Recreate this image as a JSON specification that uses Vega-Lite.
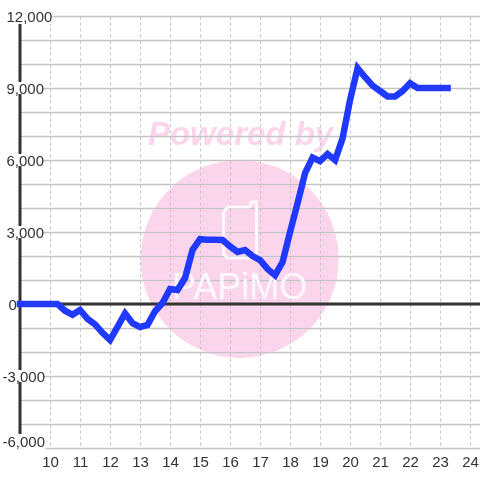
{"$schema":"https://vega.github.io/schema/vega-lite/v6.json","width":460,"height":432,"autosize":{"type":"none"},"padding":{"left":20,"top":16,"right":0,"bottom":32},"background":"#ffffff","config":{"view":{"stroke":null}},"resolve":{"axis":{"x":"independent","y":"independent"}},
"layer":[
{"data":{"values":[{"hour":16.32,"value":1875}]},"mark":{"type":"point","shape":"circle","filled":true,"size":39204,"color":"#fbd5ec","opacity":1,"blend":"darken"},
"encoding":{"x":{"field":"hour","type":"quantitative","scale":{"domain":[9,24.33],"nice":false,"zero":false},"axis":{"orient":"bottom","values":[10,11,12,13,14,15,16,17,18,19,20,21,22,23,24],"title":null,"domain":false,"ticks":false,"labels":false,"zindex":0,"grid":true,"gridColor":"#c4c4c4","gridWidth":1,"gridDash":[3,3]}},
"y":{"field":"value","type":"quantitative","scale":{"domain":[-6000,12000],"nice":false,"zero":false},"axis":{"orient":"left","values":[-6000,-5000,-4000,-3000,-2000,-1000,0,1000,2000,3000,4000,5000,6000,7000,8000,9000,10000,11000,12000],"title":null,"domain":false,"ticks":false,"labels":false,"zindex":0,"grid":true,"gridColor":"#c4c4c4","gridWidth":1.5}}}},
{"data":{"values":[{"hour":16.35,"value":7040,"label":"Powered by"}]},"mark":{"type":"text","font":"Liberation Sans","fontSize":33,"fontWeight":"bold","fontStyle":"italic","color":"#fbd5ec","baseline":"middle","align":"center","blend":"darken"},
"encoding":{"x":{"field":"hour","type":"quantitative","axis":null},"y":{"field":"value","type":"quantitative","axis":null},"text":{"field":"label"}}},
{"data":{"values":[{"hour":15.783,"value":3833,"o":1},{"hour":15.917,"value":4042,"o":2},{"hour":16.65,"value":4042,"o":3},{"hour":16.72,"value":4250,"o":4},{"hour":16.883,"value":4250,"o":5},{"hour":16.883,"value":2042,"o":6},{"hour":16.717,"value":1917,"o":7},{"hour":15.917,"value":1917,"o":8},{"hour":15.783,"value":2083,"o":9},{"hour":15.783,"value":3833,"o":10}]},"mark":{"type":"line","color":"#ffffff","strokeWidth":3,"opacity":0.85},
"encoding":{"x":{"field":"hour","type":"quantitative","axis":null},"y":{"field":"value","type":"quantitative","axis":null},"order":{"field":"o"}}},
{"data":{"values":[{"hour":16.32,"value":667,"label":"PAPiMO"}]},"mark":{"type":"text","font":"Liberation Sans","fontSize":36,"color":"#ffffff","opacity":0.85,"baseline":"middle","align":"center"},
"encoding":{"x":{"field":"hour","type":"quantitative","axis":null},"y":{"field":"value","type":"quantitative","axis":null},"text":{"field":"label"}}},
{"data":{"values":[{"hour":9,"value":-6000,"value2":12000}]},"mark":{"type":"rule","color":"#333333","strokeWidth":3},
"encoding":{"x":{"field":"hour","type":"quantitative","axis":null},"y":{"field":"value","type":"quantitative","axis":null},"y2":{"field":"value2"}}},
{"data":{"values":[{"hour":9,"hour2":24.33,"value":0}]},"mark":{"type":"rule","color":"#333333","strokeWidth":3},
"encoding":{"x":{"field":"hour","type":"quantitative","axis":null},"x2":{"field":"hour2"},"y":{"field":"value","type":"quantitative","axis":null}}},
{"data":{"values":[{"h1":8.48,"h2":10.08,"v1":11667,"v2":12333},{"h1":8.48,"h2":9.78,"v1":8750,"v2":9250},{"h1":8.48,"h2":9.78,"v1":5750,"v2":6250},{"h1":8.48,"h2":9.78,"v1":2750,"v2":3250},{"h1":8.35,"h2":9.78,"v1":-3250,"v2":-2750},{"h1":8.35,"h2":9.85,"v1":-6083,"v2":-5417}]},"mark":{"type":"rect","color":"#ffffff"},
"encoding":{"x":{"field":"h1","type":"quantitative","axis":null},"x2":{"field":"h2"},"y":{"field":"v1","type":"quantitative","axis":null},"y2":{"field":"v2"}}},
{"data":{"values":[{"hour":9,"value":0},{"hour":10.25,"value":0},{"hour":10.5,"value":-280},{"hour":10.75,"value":-450},{"hour":11,"value":-250},{"hour":11.25,"value":-620},{"hour":11.5,"value":-850},{"hour":11.75,"value":-1200},{"hour":12,"value":-1500},{"hour":12.25,"value":-950},{"hour":12.5,"value":-390},{"hour":12.75,"value":-800},{"hour":13,"value":-960},{"hour":13.25,"value":-870},{"hour":13.5,"value":-300},{"hour":13.75,"value":40},{"hour":14,"value":625},{"hour":14.25,"value":580},{"hour":14.5,"value":1080},{"hour":14.75,"value":2250},{"hour":15,"value":2700},{"hour":15.25,"value":2680},{"hour":15.5,"value":2680},{"hour":15.75,"value":2670},{"hour":16,"value":2400},{"hour":16.25,"value":2170},{"hour":16.5,"value":2250},{"hour":16.75,"value":2000},{"hour":17,"value":1830},{"hour":17.25,"value":1460},{"hour":17.5,"value":1200},{"hour":17.75,"value":1750},{"hour":18,"value":3000},{"hour":18.25,"value":4200},{"hour":18.5,"value":5450},{"hour":18.75,"value":6100},{"hour":19,"value":5950},{"hour":19.25,"value":6250},{"hour":19.5,"value":6000},{"hour":19.75,"value":6900},{"hour":20,"value":8500},{"hour":20.25,"value":9830},{"hour":20.5,"value":9450},{"hour":20.75,"value":9100},{"hour":21,"value":8875},{"hour":21.25,"value":8650},{"hour":21.5,"value":8650},{"hour":21.75,"value":8875},{"hour":22,"value":9200},{"hour":22.25,"value":9000},{"hour":22.5,"value":9000},{"hour":22.75,"value":9000},{"hour":23,"value":9000},{"hour":23.25,"value":9000}]},"mark":{"type":"line","color":"#2039ff","strokeWidth":6.5,"strokeCap":"square","strokeJoin":"miter"},
"encoding":{"x":{"field":"hour","type":"quantitative","axis":{"orient":"bottom","values":[10,11,12,13,14,15,16,17,18,19,20,21,22,23,24],"title":null,"domain":false,"ticks":false,"tickSize":0,"labelPadding":6,"labelFont":"Liberation Sans","labelFontSize":15,"labelColor":"#333333","labelFlush":false,"labelOverlap":false,"format":"d","zindex":1,"grid":false}},
"y":{"field":"value","type":"quantitative","axis":{"values":[-6000,-3000,0,3000,6000,9000,12000],"title":null,"domain":false,"ticks":false,"tickSize":0,"orient":"left","labelAlign":"left","labelFont":"Liberation Sans","labelFontSize":15,"labelColor":"#333333","labelFlush":false,"labelOverlap":false,"labelBound":false,"labelPadding":{"condition":[{"test":"datum.value<0","value":18},{"test":"datum.value===0","value":12}],"value":14},"labelOffset":{"condition":{"test":"datum.value===-6000","value":-7},"value":0},"labelExpr":"(datum.value<0?'-':'')+format(abs(datum.value),',')","zindex":1,"grid":false}}}}
]}
